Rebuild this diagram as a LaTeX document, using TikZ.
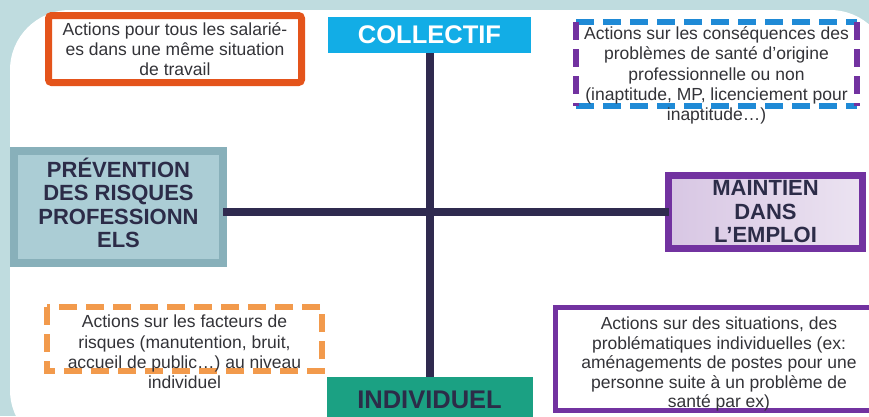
\documentclass[tikz,border=0pt]{standalone}
\usepackage{fontspec}
\setmainfont{Liberation Sans}
\usetikzlibrary{
  positioning
}
\definecolor{bgteal}{HTML}{BFDCDF}
\definecolor{axisnavy}{HTML}{2F2A4F}
\definecolor{textgray}{HTML}{333338}
\definecolor{headnavy}{HTML}{2C2C48}
\definecolor{orangesolid}{HTML}{E4541B}
\definecolor{orangelight}{HTML}{F29A4C}
\definecolor{cyanbox}{HTML}{12ADE6}
\definecolor{bluedash}{HTML}{1F8AD6}
\definecolor{purplebox}{HTML}{7232A0}
\definecolor{prevborder}{HTML}{88B0BA}
\definecolor{prevfill}{HTML}{ABCDD5}
\definecolor{lavender}{HTML}{E3D7EB}
\definecolor{greenbox}{HTML}{1BA183}
\tikzset{
  every node/.style={inner sep=0pt, outer sep=0pt},
  small text/.style={align=center, text=textgray,
    font=\fontsize{17.5}{20.3}\selectfont},
  head text/.style={align=center, text=headnavy,
    font=\fontsize{22}{23.5}\selectfont\bfseries},
  axis label/.style={font=\fontsize{25.5}{26}\selectfont\bfseries},
  axis/.style={draw=axisnavy, line width=8pt},
  dash side/.style={line width=6pt, dash pattern=on 18pt off 9pt}
}

\begin{document}
\begin{tikzpicture}[x=1pt, y=-1pt]
    \useasboundingbox (0,0) rectangle (869,416);
    \clip (0,0) rectangle (869,416);
    \fill[bgteal] (0,0) rectangle (869,416);
    \fill[white, rounded corners=60pt] (10,10) rectangle (890,450);

    % boxes of the two axes
    \node[fill=cyanbox, minimum width=203pt, minimum height=36pt,
          axis label, text=white]                       (collectif)  at (429.5,35)  {COLLECTIF};
    \node[fill=greenbox, minimum width=206pt, minimum height=46pt,
          axis label, text=headnavy]                    (individuel) at (429.5,400) {INDIVIDUEL};
    \node[draw=prevborder, fill=prevfill, line width=8pt,
          minimum width=209pt, minimum height=112pt]    (prevention) at (118.5,207) {};
    \node[head text] at ([yshift=4pt]prevention.center) {PRÉVENTION\\DES RISQUES\\PROFESSIONN\\ELS};
    \node[draw=purplebox, line width=7pt, left color=lavender!90!purplebox,
          right color=lavender!70, minimum width=194pt,
          minimum height=73pt, head text]               (maintien)   at (765.5,212) {MAINTIEN\\DANS\\L’EMPLOI};

    \draw[axis] (collectif.south) -- (individuel.north);
    \draw[axis] (prevention.east |- maintien.west) -- (maintien.west);

    % action boxes
    \node[draw=orangesolid, line width=7pt, rounded corners=3pt, fill=white,
          minimum width=253pt, minimum height=67pt, small text] (actcoll) at (175,49)
          {Actions pour tous les salarié-\\es dans une même situation\\de travail};

    \node[fill=white, minimum width=281pt, minimum height=84pt] (actcons) at (716.5,64) {};
    \draw[dash side, bluedash]  (actcons.north west) -- (actcons.north east);
    \draw[dash side, bluedash]  (actcons.south west) -- (actcons.south east);
    \draw[dash side, purplebox] (actcons.north west) -- (actcons.south west);
    \draw[dash side, purplebox] (actcons.north east) -- (actcons.south east);
    \node[small text] at ([yshift=-11.5pt]actcons.center)
          {Actions sur les conséquences des\\problèmes de santé d’origine\\professionnelle ou non\\(inaptitude, MP, licenciement pour\\inaptitude…)};

    \node[fill=white, minimum width=275pt, minimum height=64pt] (actfact) at (184.5,339) {};
    \draw[dash side, orangelight] (actfact.north west) rectangle (actfact.south east);
    \node[small text] at ([yshift=-13pt]actfact.center)
          {Actions sur les facteurs de\\risques (manutention, bruit,\\accueil de public…) au niveau\\individuel};

    \node[draw=purplebox, line width=5pt, fill=white,
          minimum width=327pt, minimum height=103pt] (actsit) at (719,359) {};
    \node[small text, font=\fontsize{17.5}{19.5}\selectfont]
          at ([yshift=-5pt]actsit.center)
          {Actions sur des situations, des\\problématiques individuelles (ex:\\aménagements de postes pour une\\personne suite à un problème de\\santé par ex)};
\end{tikzpicture}
\end{document}
